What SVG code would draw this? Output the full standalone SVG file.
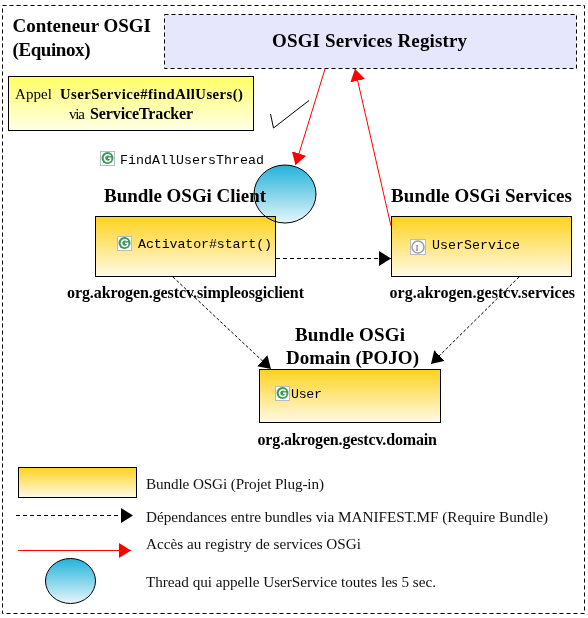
<svg xmlns="http://www.w3.org/2000/svg" width="588" height="618" viewBox="0 0 588 618">
<style>
.b{font:bold 16px "Liberation Serif",serif;fill:#000}
.h{font:bold 19px "Liberation Serif",serif;fill:#000}
.n{font:15px "Liberation Serif",serif;fill:#000}
.l{font:15.2px "Liberation Serif",serif;fill:#111}
.m{font:13.3px "Liberation Mono",monospace;fill:#000}
.bx{fill:url(#gb);stroke:#000;stroke-width:1}
.c{fill:url(#gc);stroke:#000;stroke-width:1}
.dash{fill:none;stroke:#000;stroke-width:1;stroke-dasharray:4 3}
.dot{fill:none;stroke:#000;stroke-width:1;stroke-dasharray:3 2}
.red{fill:none;stroke:#f00;stroke-width:1}
.gi{fill:#fff;stroke:#b5bcc4}
</style>
<defs>
<linearGradient id="gb" x1="0" y1="0" x2="0" y2="1"><stop offset="0" stop-color="#ffd21f"/><stop offset="1" stop-color="#fffae8"/></linearGradient>
<linearGradient id="gy" x1="0" y1="0" x2="0" y2="1"><stop offset="0" stop-color="#ffff66"/><stop offset="1" stop-color="#ffffe6"/></linearGradient>
<linearGradient id="gc" x1="0" y1="0" x2="0" y2="1"><stop offset="0" stop-color="#22b2da"/><stop offset="1" stop-color="#e6f6fb"/></linearGradient>
<marker id="ak" markerUnits="userSpaceOnUse" markerWidth="13" markerHeight="16" refX="12" refY="7.500" orient="auto"><path d="M0 0L12 7.500L0 15z" fill="#000"/></marker>
<marker id="ar" markerUnits="userSpaceOnUse" markerWidth="13" markerHeight="16" refX="12" refY="7.500" orient="auto"><path d="M0 0L12 7.500L0 15z" fill="#f00"/></marker>
<g id="ig"><rect x="0.5" y="0.5" width="14" height="14" class="gi"/><circle cx="7.5" cy="7" r="6" fill="#3d9a5a"/><path d="M10.5 5A3.4 3.4 0 1 0 10.5 9.2L10.5 7.2L8 7.2" fill="none" stroke="#fff" stroke-width="1.6"/></g>
</defs>
<rect width="588" height="618" fill="#fff"/>
<rect id="container" x="2.5" y="5.5" width="582" height="608" class="dash"/>
<g id="title"><text class="h" x="12.500" y="32" textLength="138.500">Conteneur OSGI</text><text class="h" x="12.500" y="56" textLength="78">(Equinox)</text></g>
<g id="registry"><rect x="164.5" y="14.5" width="412" height="54" fill="#e6e6fd" stroke="#000" stroke-dasharray="4 3"/><text class="h" x="272" y="47" textLength="195">OSGI Services Registry</text></g>
<g id="note"><rect x="8.5" y="76.5" width="245" height="54" fill="url(#gy)" stroke="#000"/><text class="n" x="15" y="99" textLength="37">Appel</text><text class="b" x="60" y="99" textLength="183" style="font-size:14.700px">UserService#findAllUsers()</text><text class="n" x="69" y="119" textLength="16">via</text><text class="b" x="90" y="119" textLength="103">ServiceTracker</text></g>
<path id="tick" d="M270.5 114L273.500 128L309 100.500" fill="none" stroke="#000"/>
<g id="thread-label"><use href="#ig" x="100" y="151"/><text class="m" x="120" y="164" textLength="144">FindAllUsersThread</text></g>
<g id="client">
<rect x="95.500" y="216.500" width="180" height="60" class="bx"/>
<text class="h" x="104" y="202" textLength="162">Bundle OSGi Client</text>
<use href="#ig" x="117" y="236"/><text class="m" x="138" y="248" textLength="134">Activator#start()</text>
<text class="b" x="67" y="298" textLength="237">org.akrogen.gestcv.simpleosgiclient</text>
</g>
<g id="thread"><ellipse cx="285" cy="194" rx="31" ry="29" class="c" style="mix-blend-mode:multiply"/></g>
<g id="services">
<rect x="391.500" y="216.500" width="180" height="60" class="bx"/>
<text class="h" x="391" y="202" textLength="181">Bundle OSGi Services</text>
<rect x="410.500" y="239.500" width="15" height="15" class="gi"/><circle cx="418" cy="247" r="6" fill="#fff" stroke="#9aa0a8" stroke-width="1.500"/><text x="415.500" y="250.500" style="font:bold 8px 'Liberation Serif',serif;fill:#889">I</text>
<text class="m" x="432" y="249" textLength="88">UserService</text>
<text class="b" x="389.500" y="298" textLength="185.500">org.akrogen.gestcv.services</text>
</g>
<g id="domain">
<text class="h" x="295" y="341" textLength="110">Bundle OSGi</text><text class="h" x="286" y="364" textLength="133">Domain (POJO)</text>
<rect x="259.500" y="369.500" width="181" height="53" class="bx"/>
<use href="#ig" x="275" y="386"/><text class="m" x="291" y="398" textLength="31">User</text>
<text class="b" x="257.500" y="445" textLength="179.500">org.akrogen.gestcv.domain</text>
</g>
<g id="connectors">
<path class="red" d="M325 69L295.500 165" marker-end="url(#ar)"/>
<path class="red" d="M391 226L355 69" marker-end="url(#ar)"/>
<path class="dash" d="M276 258.500H391" marker-end="url(#ak)"/>
<path class="dot" d="M173 277L271 369" marker-end="url(#ak)"/>
<path class="dot" d="M519 277L431 364" marker-end="url(#ak)"/>
</g>
<g id="legend">
<rect x="18.500" y="467.500" width="118" height="30" class="bx"/>
<text class="l" x="146" y="489" textLength="178">Bundle OSGi (Projet Plug-in)</text>
<path class="dash" d="M16 515.500H133" marker-end="url(#ak)"/>
<text class="l" x="146" y="522" textLength="402">Dépendances entre bundles via MANIFEST.MF (Require Bundle)</text>
<path class="red" d="M18 550.500H131" stroke-width="1.500" marker-end="url(#ar)"/>
<text class="l" x="146" y="549" textLength="215">Accès au registry de services OSGi</text>
<ellipse cx="70.500" cy="581" rx="25" ry="22.500" class="c"/>
<text class="l" x="146" y="587" textLength="290">Thread qui appelle UserService toutes les 5 sec.</text>
</g>
</svg>
